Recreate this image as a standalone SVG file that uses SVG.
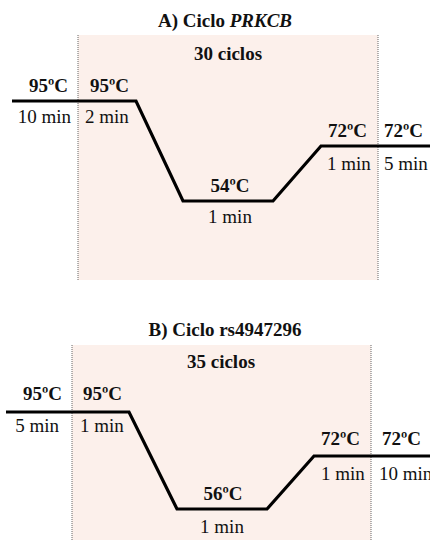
<svg xmlns="http://www.w3.org/2000/svg" width="430" height="540" viewBox="0 0 430 540">
  <style>
    text { font-family: "Liberation Serif", "Times New Roman", serif; font-size: 19px; fill: #111; }
    .b { font-weight: bold; }
    .mid { text-anchor: middle; }
    .end { text-anchor: end; }
    .shade { fill: #fcf0eb; }
    .div { stroke: #666; stroke-width: 1; stroke-dasharray: 1 1; fill: none; }
    .curve { stroke: #000; stroke-width: 3.2; fill: none; stroke-linejoin: miter; }
  </style>

  <!-- Panel A: PRKCB cycle -->
  <g id="panelA">
    <rect class="shade" x="78" y="35" width="300" height="245"/>
    <g id="A-connectors">
      <line class="div" x1="78" y1="35" x2="78" y2="280"/>
      <line class="div" x1="378" y1="35" x2="378" y2="280"/>
      <path class="curve" d="M12,101 H136 L183,201 H273 L321,146 H430"/>
    </g>
    <text id="A-title" class="b mid" x="225" y="27">A) Ciclo <tspan font-style="italic">PRKCB</tspan></text>
    <text id="A-cycles" class="b mid" x="228" y="60">30 ciclos</text>
    <g id="A-init">
      <text class="b end" x="68" y="92">95ºC</text>
      <text class="end" x="71" y="123">10 min</text>
    </g>
    <g id="A-denat">
      <text class="b" x="90" y="92">95ºC</text>
      <text x="85" y="123">2 min</text>
    </g>
    <g id="A-anneal">
      <text class="b mid" x="230" y="192">54ºC</text>
      <text class="mid" x="230" y="223">1 min</text>
    </g>
    <g id="A-ext">
      <text class="b" x="328" y="137">72ºC</text>
      <text x="327" y="170">1 min</text>
    </g>
    <g id="A-final">
      <text class="b" x="384" y="137">72ºC</text>
      <text x="384" y="170">5 min</text>
    </g>
  </g>

  <!-- Panel B: rs4947296 cycle -->
  <g id="panelB">
    <rect class="shade" x="72" y="345" width="299" height="195"/>
    <g id="B-connectors">
      <line class="div" x1="72" y1="345" x2="72" y2="540"/>
      <line class="div" x1="371" y1="345" x2="371" y2="540"/>
      <path class="curve" d="M6,412 H129 L177,509 H267 L314,456 H430"/>
    </g>
    <text id="B-title" class="b mid" x="225" y="336">B) Ciclo rs4947296</text>
    <text id="B-cycles" class="b mid" x="221" y="368">35 ciclos</text>
    <g id="B-init">
      <text class="b end" x="62" y="400">95ºC</text>
      <text class="end" x="59" y="432">5 min</text>
    </g>
    <g id="B-denat">
      <text class="b" x="83" y="400">95ºC</text>
      <text x="80" y="432">1 min</text>
    </g>
    <g id="B-anneal">
      <text class="b mid" x="223" y="500">56ºC</text>
      <text class="mid" x="222" y="533">1 min</text>
    </g>
    <g id="B-ext">
      <text class="b" x="321" y="445">72ºC</text>
      <text x="321" y="480">1 min</text>
    </g>
    <g id="B-final">
      <text class="b" x="382" y="445">72ºC</text>
      <text x="379" y="480">10 min</text>
    </g>
  </g>
</svg>
